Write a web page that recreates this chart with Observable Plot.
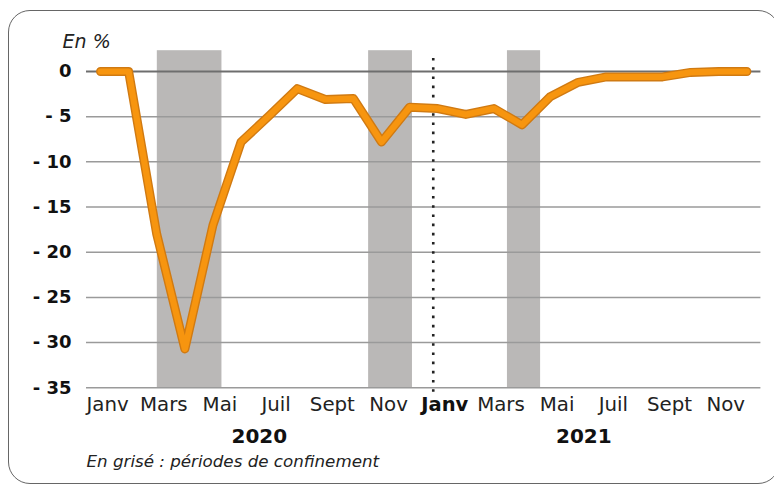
<!DOCTYPE html>
<html>
<head>
<meta charset="utf-8">
<script src="https://cdn.jsdelivr.net/npm/d3@7"></script>
<script src="https://cdn.jsdelivr.net/npm/@observablehq/plot@0.6"></script>
<style>
  html, body { margin: 0; padding: 0; background: #fff; }
  #wrap { position: relative; width: 774px; height: 486px; overflow: hidden; }
  #frame { position: absolute; left: 8px; top: 10px; width: 772px; height: 474px;
           border: 1.6px solid #666; border-radius: 22px; box-sizing: border-box; }
  #chart { position: absolute; left: 0; top: 0; }
</style>
</head>
<body>
<div id="wrap"><div id="frame"></div><div id="chart"></div></div>
<script>
// Monthly values, Jan 2020 .. Dec 2021 (en %)
const monthIndex = d3.range(24);
const values = [0, 0, -18, -30.7, -17, -7.8, -4.9, -1.9, -3.1, -3.0, -7.8, -3.95,
                -4.1, -4.75, -4.1, -5.9, -2.8, -1.2, -0.6, -0.6, -0.6, -0.1, 0, 0];
const xTickLabels = ["Janv","Mars","Mai","Juil","Sept","Nov","Janv","Mars","Mai","Juil","Sept","Nov"];
const xTickIndex = [0, 2, 4, 6, 8, 10, 12, 14, 16, 18, 20, 22];
const yTicks = [0, -5, -10, -15, -20, -25, -30, -35];
const years = ["2020", "2021"];
const lockStart = [2.02, 9.54, 14.48];
const lockEnd = [4.32, 11.10, 15.66];

const data = monthIndex.map((i) => ({i, v: values[i]}));
const bands = lockStart.map((s, k) => ({s, e: lockEnd[k]}));
const ticks = xTickIndex.map((i, k) => ({i, label: xTickLabels[k], bold: i === 12}));

const font = "'DejaVu Sans', sans-serif";

const chart = Plot.plot({
  width: 774,
  height: 486,
  marginLeft: 86,
  marginRight: 13.6,
  marginTop: 50.2,
  marginBottom: 98.7,
  style: {fontFamily: font, background: "transparent", overflow: "visible"},
  x: {domain: [-0.5, 23.5], axis: null},
  y: {domain: [-35, 2.3], axis: null},
  marks: [
    Plot.rectX(bands, {x1: "s", x2: "e", y1: -35, y2: 2.3, fill: "#bab8b7"}),
    Plot.ruleY(yTicks.filter(d => d !== 0), {stroke: "#9a9a9a", strokeWidth: 1.5}),
    Plot.ruleY([0], {stroke: "#6e6e6e", strokeWidth: 1.8}),
    Plot.ruleX([11.84], {y1: -35.5, y2: 1.9, stroke: "#222", strokeWidth: 2.6, strokeDasharray: "2.6,6.6"}),
    Plot.line(data, {x: "i", y: "v", stroke: "#d07a12", strokeWidth: 9, strokeLinejoin: "round", strokeLinecap: "round"}),
    Plot.line(data, {x: "i", y: "v", stroke: "#f7950f", strokeWidth: 6.2, strokeLinejoin: "round", strokeLinecap: "round"}),
    Plot.axisY(yTicks, {label: null, tickSize: 0, tickPadding: 15, fontSize: 18, fontWeight: "bold", fill: "#111",
      tickFormat: d => d === 0 ? "0" : "- " + Math.abs(d)}),
    Plot.text(ticks.filter(d => !d.bold), {x: "i", y: -35, text: "label", dx: 7, dy: 9, lineAnchor: "top",
      fontSize: 19.8, fill: "#222"}),
    Plot.text(ticks.filter(d => d.bold), {x: "i", y: -35, text: "label", dx: 7, dy: 9, lineAnchor: "top",
      fontSize: 19.5, fontWeight: "bold", fill: "#111"}),
    Plot.text(years, {x: (d, k) => [5.65, 17.2][k], y: -35, text: d => d, dy: 41, lineAnchor: "top",
      fontSize: 20, fontWeight: "bold", fill: "#111"}),
    Plot.text(["En %"], {x: -1.35, y: 0, text: d => d, dy: -37, lineAnchor: "top", textAnchor: "start",
      fontSize: 19, fontStyle: "italic", fill: "#222"}),
    Plot.text(["En grisé : périodes de confinement"], {x: -0.5, y: -35, text: d => d, dy: 67, lineAnchor: "top",
      textAnchor: "start", fontSize: 16.7, fontStyle: "italic", fill: "#222"})
  ]
});
document.getElementById("chart").appendChild(chart);
</script>
</body>
</html>
